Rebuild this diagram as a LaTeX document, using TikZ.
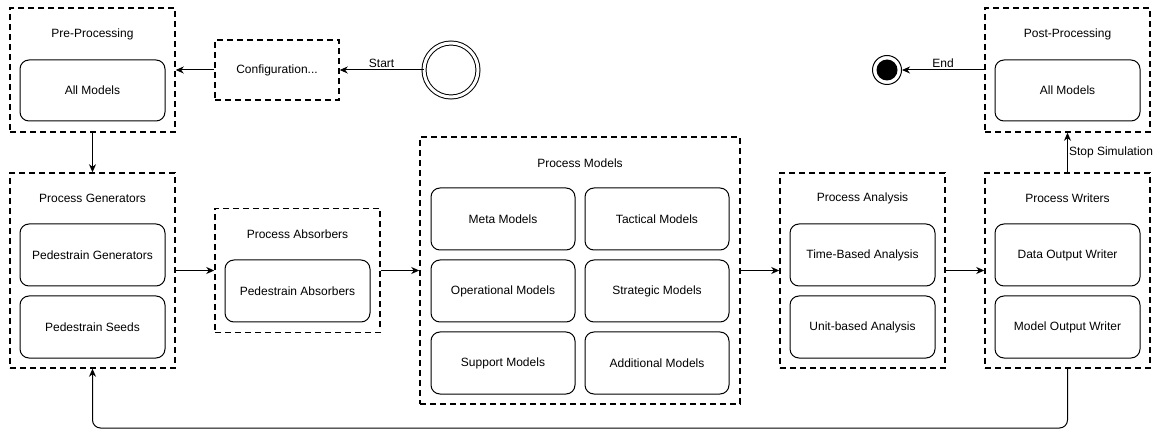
\documentclass[tikz,border=0pt]{standalone}
\usepackage{fontspec}
\setmainfont{Liberation Sans}
\usetikzlibrary{arrows.meta}

\tikzset{
	group/.style={draw, line width=1.5pt, dash pattern=on 6pt off 4pt, inner sep=0pt},
	model/.style={draw, line width=1pt, rounded corners=9pt, minimum width=145pt, minimum height=62pt, inner sep=0pt},
	arr/.style={line width=1pt, -{Stealth[length=8pt,width=7pt,inset=2.5pt]}},
}

\begin{document}
\begin{tikzpicture}[x=1pt, y=-1pt, font=\fontsize{12}{14}\selectfont]
			\useasboundingbox (0,0) rectangle (1154,430);
			% Groups
			\node[group, minimum width=165pt, minimum height=124pt] (pre) at (92.5,70) {};
			\node (pretitle) at (92.5,34) {Pre-Processing};
			\node[model, minimum height=61pt] (preall) at (92.5,90.5) {All Models};
			\node[group, minimum width=124pt, minimum height=60pt] (config) at (277,70) {Configuration...};
			\node[circle, draw, line width=1pt, double, double distance=3pt, minimum size=54pt] (start) at (451,70) {};
			\node[group, minimum width=165pt, minimum height=124pt] (post) at (1067.5,70) {};
			\node (posttitle) at (1067.5,34) {Post-Processing};
			\node[model, minimum height=61pt] (postall) at (1067.5,90.5) {All Models};
			\node[circle, draw, line width=1pt, minimum size=29pt] (end) at (887,70) {};
			\node[circle, fill=black, minimum size=21pt, inner sep=0pt] (endcore) at (887,70) {};
			\node[group, minimum width=165pt, minimum height=195pt] (gen) at (92.5,270.5) {};
			\node (gentitle) at (92.5,198) {Process Generators};
			\node[model] (gen1) at (92.5,255) {Pedestrain Generators};
			\node[model] (gen2) at (92.5,327) {Pedestrain Seeds};
			\node[group, minimum width=165pt, minimum height=124pt] (abs) at (297.5,270.5) {};
			\node (abstitle) at (297.5,234) {Process Absorbers};
			\node[model] (abs1) at (297.5,291) {Pedestrain Absorbers};
			\node[group, minimum width=320pt, minimum height=267pt] (models) at (580,270.5) {};
			\node (modelstitle) at (580,163) {Process Models};
			\node[model, minimum width=144pt] (meta) at (503,219) {Meta Models};
			\node[model, minimum width=144pt] (tactical) at (657,219) {Tactical Models};
			\node[model, minimum width=144pt] (operational) at (503,291) {Operational Models};
			\node[model, minimum width=144pt] (strategic) at (657,291) {Strategic Models};
			\node[model, minimum width=144pt] (support) at (503,363) {Support Models};
			\node[model, minimum width=144pt] (additional) at (657,363) {Additional Models};
			\node[group, minimum width=165pt, minimum height=195pt] (ana) at (862.5,270.5) {};
			\node (anatitle) at (862.5,198) {Process Analysis};
			\node[model] (ana1) at (862.5,255) {Time-Based Analysis};
			\node[model] (ana2) at (862.5,327) {Unit-based Analysis};
			\node[group, minimum width=165pt, minimum height=195pt] (wri) at (1067.5,270.5) {};
			\node (writitle) at (1067.5,198) {Process Writers};
			\node[model] (wri1) at (1067.5,255) {Data Output Writer};
			\node[model] (wri2) at (1067.5,327) {Model Output Writer};
			\coordinate (loop) at (580,428);
			% Flow
			\draw[arr] (start) -- node[above, inner sep=2pt] {Start} (config);
			\draw[arr] (config) -- (pre);
			\draw[arr] (pre) -- (gen);
			\draw[arr] (gen) -- (abs);
			\draw[arr] (abs) -- (models);
			\draw[arr] (models) -- (ana);
			\draw[arr] (ana) -- (wri);
			\draw[arr] (wri) -- node[right, inner sep=1pt] {Stop Simulation} (post);
			\draw[arr] (post) -- node[above, inner sep=2pt] {End} (end);
			\draw[arr, rounded corners=8pt] (wri.south) |- (loop) -| (gen.south);
		\end{tikzpicture}
\end{document}
